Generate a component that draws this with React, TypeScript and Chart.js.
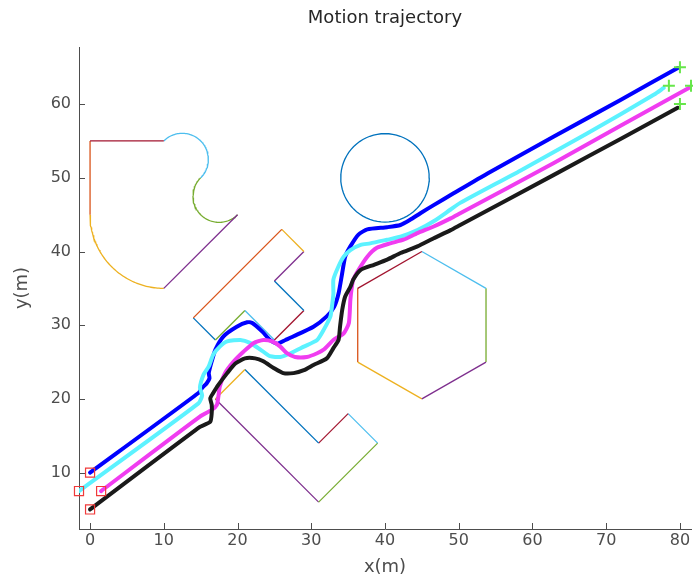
import React, { useEffect, useRef } from 'react';
import { Chart, registerables } from 'chart.js';

Chart.register(...registerables);

// ---------- texts & axes ----------
const TITLE = 'Motion trajectory';
const X_LABEL = 'x(m)';
const Y_LABEL = 'y(m)';
const X_MIN = -1.5;
const X_MAX = 81.5;
const Y_MIN = 2.35;
const Y_MAX = 67.75;
const X_TICKS = [0, 10, 20, 30, 40, 50, 60, 70, 80];
const Y_TICKS = [10, 20, 30, 40, 50, 60];

// ---------- trajectories ----------
const BLUE_X = [0, 14.7, 15.2, 15.8, 16.2, 16.1, 16.5, 17.0, 18.1, 19.9, 21.3, 22.0, 23.4, 24.4, 25.4, 26.5, 27.6, 30.3, 32.1, 33.1, 33.7, 34.2, 34.6, 35.3, 36.4, 37.6, 40.3, 42.1, 43.4, 44.8, 46.6, 49.3, 53.9, 62.9, 72.0, 79.7];
const BLUE_Y = [10, 20.8, 21.5, 22.1, 22.8, 23.5, 25.1, 26.7, 28.5, 29.8, 30.4, 30.3, 29.1, 28.0, 27.5, 28.0, 28.5, 29.8, 31.2, 32.5, 34.3, 37.1, 39.3, 40.7, 42.3, 43.0, 43.3, 43.6, 44.3, 45.2, 46.3, 47.9, 50.6, 55.6, 60.6, 64.9];

const CYAN_X = [-1.5, 14.7, 15.2, 14.9, 15.4, 16.1, 16.7, 17.6, 18.6, 20.4, 21.7, 23.1, 24.4, 25.8, 27.2, 29.0, 30.8, 31.7, 32.6, 32.8, 33.0, 33.0, 33.7, 34.4, 35.3, 36.7, 38.0, 40.3, 42.1, 44.4, 46.6, 48.9, 50.2, 58.4, 67.4, 76.5, 77.8];
const CYAN_Y = [7.5, 19.4, 20.5, 21.5, 23.3, 24.4, 26.0, 27.1, 27.8, 28.0, 27.6, 26.7, 25.8, 25.7, 26.2, 27.1, 28.0, 29.4, 31.2, 32.5, 34.3, 36.2, 38.0, 39.3, 40.2, 40.9, 41.1, 41.6, 42.0, 42.9, 44.1, 45.7, 46.6, 51.0, 56.0, 61.3, 62.2];

const MAGENTA_X = [1.5, 14.9, 16.5, 17.2, 17.4, 17.6, 18.3, 19.5, 20.8, 22.2, 23.5, 24.7, 25.8, 26.7, 27.8, 29.4, 30.8, 31.7, 33.0, 34.4, 35.1, 35.3, 35.5, 35.7, 36.4, 37.6, 38.9, 40.7, 42.5, 44.4, 46.6, 48.9, 50.2, 62.9, 72.0, 81.2];
const MAGENTA_Y = [7.5, 17.6, 18.5, 19.2, 20.3, 21.7, 23.5, 25.1, 26.4, 27.6, 28.0, 27.8, 27.1, 26.2, 25.7, 25.7, 26.2, 26.7, 28.0, 28.9, 30.3, 33.4, 35.2, 36.2, 37.5, 39.3, 40.5, 41.1, 41.6, 42.5, 43.4, 44.5, 45.2, 52.0, 57.1, 62.2];

const BLACK_X = [0, 14.9, 16.3, 16.5, 16.5, 16.3, 16.7, 17.4, 18.6, 19.7, 21.0, 22.4, 23.5, 24.9, 26.2, 27.6, 29.0, 30.3, 32.1, 33.0, 33.7, 33.9, 34.2, 34.6, 35.3, 35.7, 36.7, 38.5, 40.3, 42.1, 44.4, 46.6, 48.9, 50.2, 62.9, 72.0, 79.7];
const BLACK_Y = [5, 16.2, 16.9, 18.1, 19.2, 20.1, 20.8, 21.9, 23.5, 24.8, 25.5, 25.5, 25.1, 24.2, 23.5, 23.5, 23.9, 24.6, 25.5, 26.9, 28.0, 29.8, 32.1, 33.9, 35.2, 36.2, 37.5, 38.2, 38.9, 39.8, 40.7, 41.8, 42.9, 43.6, 50.4, 55.3, 59.5];

const START_X = [0, -1.5, 1.5, 0];
const START_Y = [10, 7.5, 7.5, 5];
const GOAL_X = [80, 78.5, 81.5, 80];
const GOAL_Y = [65, 62.5, 62.5, 60];

// ---------- obstacles ----------
const C_BLUE = '#0072BD';
const C_ORANGE = '#D95319';
const C_YELLOW = '#EDB120';
const C_PURPLE = '#7E2F8E';
const C_GREEN = '#77AC30';
const C_LBLUE = '#4DBEEE';
const C_RED = '#A2142F';

const T_X = [14, 26, 29, 25, 29, 25, 21, 17, 14];
const T_Y = [31, 43, 40, 36, 32, 28, 32, 28, 31];
const T_C = [C_ORANGE, C_YELLOW, C_PURPLE, C_BLUE, C_RED, C_LBLUE, C_GREEN, C_BLUE];

const L_X = [17, 21, 31, 35, 39, 31, 17];
const L_Y = [20, 24, 14, 18, 14, 6, 20];
const L_C = [C_YELLOW, C_BLUE, C_RED, C_LBLUE, C_GREEN, C_PURPLE];

const HEX_X = [36.3, 45, 53.7, 53.7, 45, 36.3, 36.3];
const HEX_Y = [35, 40, 35, 25, 20, 25, 35];
const HEX_C = [C_RED, C_LBLUE, C_GREEN, C_PURPLE, C_YELLOW, C_ORANGE];

// straight edges of the top-left shape
const CUP_X = [[0, 10], [20, 10], [0, 0]];
const CUP_Y = [[55, 55], [45, 35], [45, 55]];
const CUP_C = [C_RED, C_PURPLE, C_ORANGE];

// arcs: centre, radius, start / end angle (deg)
const ARC_CX = [12.5, 17.5, 10, 40];
const ARC_CY = [52.5, 47.5, 45, 50];
const ARC_R = [3.54, 3.54, 10, 6];
const ARC_A0 = [135, 135, 180, 0];
const ARC_A1 = [-45, 315, 270, 360];
const ARC_C = [C_LBLUE, C_GREEN, C_YELLOW, C_BLUE];

const AXIS_COLOR = '#4d4d4d';
const FONT = '"DejaVu Sans", Verdana, sans-serif';

const pts = (xs: number[], ys: number[]) => xs.map((x, i) => ({ x, y: ys[i] }));

function arcPoints(cx: number, cy: number, r: number, a0: number, a1: number) {
  const out: { x: number; y: number }[] = [];
  const n = 72;
  for (let i = 0; i <= n; i++) {
    const a = ((a0 + ((a1 - a0) * i) / n) * Math.PI) / 180;
    out.push({ x: cx + r * Math.cos(a), y: cy + r * Math.sin(a) });
  }
  return out;
}

function polyEdges(xs: number[], ys: number[], cs: string[]) {
  return cs.map((c, i) => ({
    data: [{ x: xs[i], y: ys[i] }, { x: xs[i + 1], y: ys[i + 1] }],
    color: c,
  }));
}

const overlay = {
  id: 'overlay',
  afterDatasetsDraw(chart: any) {
    const { ctx, chartArea, scales } = chart;
    ctx.save();
    ctx.strokeStyle = AXIS_COLOR;
    ctx.lineWidth = 1;
    const len = 6;
    X_TICKS.forEach((v) => {
      const px = Math.round(scales.x.getPixelForValue(v)) + 0.5;
      ctx.beginPath();
      ctx.moveTo(px, chartArea.bottom);
      ctx.lineTo(px, chartArea.bottom - len);
      ctx.stroke();
    });
    Y_TICKS.forEach((v) => {
      const py = Math.round(scales.y.getPixelForValue(v)) + 0.5;
      ctx.beginPath();
      ctx.moveTo(chartArea.left, py);
      ctx.lineTo(chartArea.left + len, py);
      ctx.stroke();
    });
    ctx.fillStyle = '#262626';
    ctx.font = `18px ${FONT}`;
    ctx.textAlign = 'center';
    ctx.textBaseline = 'middle';
    ctx.fillText(TITLE, (chartArea.left + chartArea.right) / 2, 18);
    ctx.restore();
  },
};

export default function App() {
  const ref = useRef<HTMLCanvasElement>(null);

  useEffect(() => {
    const obstacleSets: any[] = [];
    const addLine = (data: any[], color: string) =>
      obstacleSets.push({
        data,
        showLine: true,
        borderColor: color,
        borderWidth: 1.3,
        pointRadius: 0,
        tension: 0,
        fill: false,
        order: 10,
      });
    [...polyEdges(T_X, T_Y, T_C), ...polyEdges(L_X, L_Y, L_C), ...polyEdges(HEX_X, HEX_Y, HEX_C)].forEach((e) =>
      addLine(e.data, e.color)
    );
    CUP_C.forEach((c, i) => addLine(pts(CUP_X[i], CUP_Y[i]), c));
    ARC_C.forEach((c, i) => addLine(arcPoints(ARC_CX[i], ARC_CY[i], ARC_R[i], ARC_A0[i], ARC_A1[i]), c));

    const traj = (xs: number[], ys: number[], color: string, order: number) => ({
      data: pts(xs, ys),
      showLine: true,
      borderColor: color,
      borderWidth: 4,
      pointRadius: 0,
      tension: 0.2,
      borderCapStyle: 'round',
      borderJoinStyle: 'round',
      fill: false,
      order,
    });

    const chart = new Chart(ref.current as HTMLCanvasElement, {
      type: 'scatter',
      data: {
        datasets: [
          {
            data: pts(START_X, START_Y),
            pointStyle: 'rect',
            pointRadius: 6.4,
            pointBorderColor: '#f03a3a',
            pointBackgroundColor: 'rgba(0,0,0,0)',
            pointBorderWidth: 1.2,
            showLine: false,
            clip: false,
            order: 0,
          } as any,
          {
            data: pts(GOAL_X, GOAL_Y),
            pointStyle: 'cross',
            pointRadius: 6,
            pointBorderColor: '#66e64a',
            pointBorderWidth: 2,
            showLine: false,
            clip: false,
            order: 0,
          } as any,
          traj(BLACK_X, BLACK_Y, '#1a1a1a', 1),
          traj(MAGENTA_X, MAGENTA_Y, '#f03cf0', 2),
          traj(CYAN_X, CYAN_Y, '#5cf2ff', 3),
          traj(BLUE_X, BLUE_Y, '#0000ff', 4),
          ...obstacleSets,
        ] as any,
      },
      options: {
        responsive: false,
        animation: false,
        devicePixelRatio: 1,
        layout: { autoPadding: false, padding: { left: 0, right: 2, top: 47, bottom: 0 } },
        plugins: {
          legend: { display: false },
          tooltip: { enabled: false },
          title: { display: false },
        },
        scales: {
          x: {
            type: 'linear',
            min: X_MIN,
            max: X_MAX,
            grid: { display: false, drawTicks: false },
            border: { display: true, color: AXIS_COLOR, width: 1 },
            afterBuildTicks: (s: any) => {
              s.ticks = X_TICKS.map((v) => ({ value: v }));
            },
            afterFit: (s: any) => {
              s.height = 52;
              s.paddingLeft = 0;
              s.paddingRight = 0;
            },
            ticks: {
              padding: 2,
              color: '#4d4d4d',
              font: { family: FONT, size: 16 },
              maxRotation: 0,
              callback: (v: any) => String(v),
            },
            title: {
              display: true,
              text: X_LABEL,
              color: '#4d4d4d',
              font: { family: FONT, size: 18 },
              padding: { top: 0, bottom: 3 },
            },
          },
          y: {
            type: 'linear',
            min: Y_MIN,
            max: Y_MAX,
            grid: { display: false, drawTicks: false },
            border: { display: true, color: AXIS_COLOR, width: 1 },
            afterBuildTicks: (s: any) => {
              s.ticks = Y_TICKS.map((v) => ({ value: v }));
            },
            afterFit: (s: any) => {
              s.width = 79;
              s.paddingTop = 0;
              s.paddingBottom = 0;
            },
            ticks: {
              padding: 8,
              color: '#4d4d4d',
              font: { family: FONT, size: 16 },
              callback: (v: any) => String(v),
            },
            title: {
              display: true,
              text: Y_LABEL,
              color: '#4d4d4d',
              font: { family: FONT, size: 18 },
              padding: { top: 12, bottom: 0 },
            },
          },
        },
      } as any,
      plugins: [overlay],
    });
    return () => chart.destroy();
  }, []);

  return (
    <div style={{ position: 'fixed', left: 0, top: 0, width: 693, height: 581, background: '#ffffff' }}>
      <canvas ref={ref} width={693} height={581} style={{ display: 'block', width: 693, height: 581 }} />
    </div>
  );
}
